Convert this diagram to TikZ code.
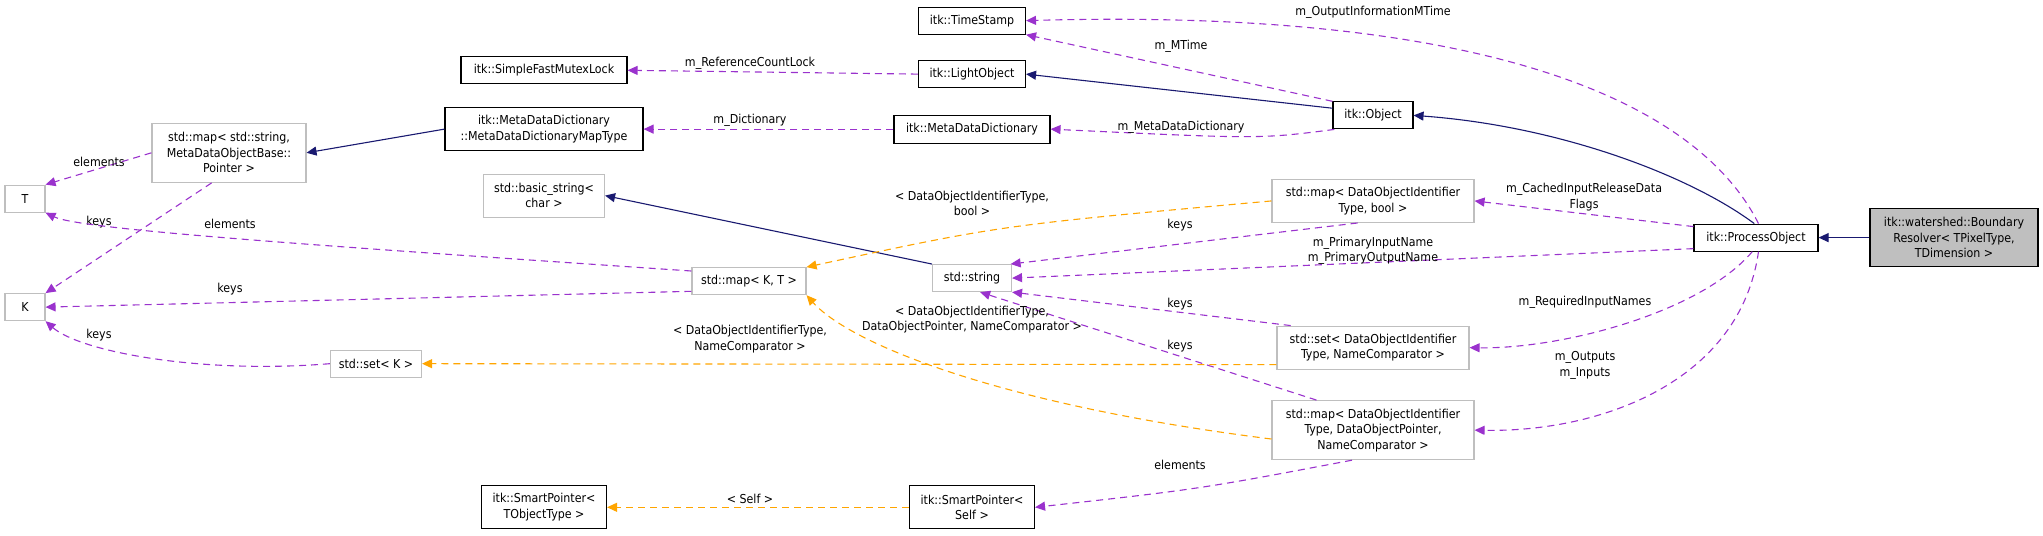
\documentclass[tikz,border=0pt]{standalone}
\usepackage{fontspec}
\setmainfont{DejaVu Sans Condensed}
\usetikzlibrary{arrows.meta}
\definecolor{navy}{HTML}{191970}
\definecolor{purp}{HTML}{9A32CD}
\definecolor{orng}{HTML}{FFA500}
\definecolor{gb}{HTML}{BFBFBF}
\begin{document}
\begin{tikzpicture}[x=1pt,y=-0.764pt,
  font=\fontsize{12.3}{15.5}\selectfont,
  every node/.style={inner sep=0pt,align=center},
  cls/.style={draw=black,line width=1.1pt,fill=white},
  tpl/.style={draw=gb,line width=1.1pt,fill=white},
  tip/.style={-{Triangle[length=10pt,width=9pt]}},
  inh/.style={tip,draw=navy,line width=1.1pt},
  use/.style={tip,draw=purp,dashed,dash pattern=on 7pt off 5pt,line width=1.1pt},
  tmp/.style={tip,draw=orng,dashed,dash pattern=on 7pt off 5pt,line width=1.1pt},
  lbl/.style={fill=none}]
\useasboundingbox (0,0) rectangle (2043,700.3);
% nodes
\node[cls,fill=gb,minimum width=168,minimum height=58] (res) at (1954,311) {itk::watershed::Boundary\\Resolver< TPixelType,\\TDimension >};
\node[cls,minimum width=124,minimum height=27] (po) at (1756,311) {itk::ProcessObject};
\node[cls,minimum width=80,minimum height=27] (obj) at (1373,151) {itk::Object};
\node[cls,minimum width=107,minimum height=27] (ts) at (972,27) {itk::TimeStamp};
\node[cls,minimum width=107,minimum height=27] (lo) at (972,97) {itk::LightObject};
\node[cls,minimum width=156,minimum height=28] (mdd) at (972,169) {itk::MetaDataDictionary};
\node[cls,minimum width=166,minimum height=27] (sfml) at (544,92) {itk::SimpleFastMutexLock};
\node[cls,minimum width=198,minimum height=43] (mt) at (544,169) {itk::MetaDataDictionary\\::MetaDataDictionaryMapType};
\node[tpl,minimum width=154,minimum height=59] (smap) at (229,200) {std::map< std::string,\\MetaDataObjectBase::\\Pointer >};
\node[tpl,minimum width=40,minimum height=27] (T) at (25,260) {T};
\node[tpl,minimum width=40,minimum height=27] (K) at (25,402) {K};
\node[tpl,minimum width=121,minimum height=43] (bs) at (544,256) {std::basic\_string<\\char >};
\node[tpl,minimum width=91,minimum height=27] (setK) at (376,476) {std::set< K >};
\node[cls,minimum width=125,minimum height=43] (spT) at (544,664) {itk::SmartPointer<\\TObjectType >};
\node[tpl,minimum width=114,minimum height=27] (mapKT) at (749,368) {std::map< K, T >};
\node[tpl,minimum width=79,minimum height=27] (str) at (972,364) {std::string};
\node[tpl,minimum width=202,minimum height=43] (mb) at (1373,263) {std::map< DataObjectIdentifier\\Type, bool >};
\node[tpl,minimum width=192,minimum height=43] (snc) at (1373,455) {std::set< DataObjectIdentifier\\Type, NameComparator >};
\node[tpl,minimum width=202,minimum height=59] (mdop) at (1373,563) {std::map< DataObjectIdentifier\\Type, DataObjectPointer,\\NameComparator >};
\node[cls,minimum width=125,minimum height=43] (spS) at (972,664) {itk::SmartPointer<\\Self >};
% inheritance
\draw[inh] (res) -- (po);
\draw[inh] (po.97) .. controls (1690,230) and (1560,165) .. (obj.east);
\draw[inh] (obj.170) -- (lo.east);
\draw[inh] (str.north west) -- (bs.east);
\draw[inh] (mt.west) -- (smap.east);
% usage
\draw[use] (po.80) .. controls (1700,140) and (1500,10) .. (ts.east);
\node[lbl] at (1373,16) {m\_OutputInformationMTime};
\draw[use] (obj.north west) -- (ts.south east);
\node[lbl] at (1181,61) {m\_MTime};
\draw[use] (lo.west) -- (sfml.east);
\node[lbl] at (750,83) {m\_ReferenceCountLock};
\draw[use] (obj.200) .. controls (1260,182) .. (mdd.east);
\node[lbl] at (1181,166) {m\_MetaDataDictionary};
\draw[use] (mdd.west) -- (mt.east);
\node[lbl] at (750,158) {m\_Dictionary};
\draw[use] (smap.west) -- (T.north east);
\node[lbl] at (99,212) {elements};
\draw[use] (smap.240) -- (K.north east);
\node[lbl] at (99,291) {keys};
\draw[use] (mapKT.170) .. controls (300,320) and (80,300) .. (T.south east);
\node[lbl] at (230,293) {elements};
\draw[use] (mapKT.190) -- (K.east);
\node[lbl] at (230,378) {keys};
\draw[use] (setK.west) .. controls (200,490) and (80,460) .. (K.south east);
\node[lbl] at (99,438) {keys};
\draw[use] (po.170) -- (mb.east);
\node[lbl] at (1584,258) {m\_CachedInputReleaseData\\Flags};
\draw[use] (po.190) -- (str.east);
\node[lbl] at (1373,328) {m\_PrimaryInputName\\m\_PrimaryOutputName};
\draw[use] (po.255) .. controls (1700,410) and (1560,457) .. (snc.east);
\node[lbl] at (1585,395) {m\_RequiredInputNames};
\draw[use] (po.280) .. controls (1740,500) and (1600,566) .. (mdop.east);
\node[lbl] at (1585,478) {m\_Outputs\\m\_Inputs};
\draw[use] (mb.235) -- (str.20);
\node[lbl] at (1180,294) {keys};
\draw[use] (snc.165) -- (str.south east);
\node[lbl] at (1180,398) {keys};
\draw[use] (mdop.152) -- (str.300);
\node[lbl] at (1180,453) {keys};
\draw[use] (mdop.235) .. controls (1200,640) .. (spS.east);
\node[lbl] at (1180,608) {elements};
% template
\draw[tmp] (mb.west) .. controls (1000,295) .. (mapKT.north east);
\node[lbl] at (972,266) {< DataObjectIdentifierType,\\bool >};
\draw[tmp] (mdop.185) .. controls (1000,530) and (850,450) .. (mapKT.south east);
\node[lbl] at (972,418) {< DataObjectIdentifierType,\\DataObjectPointer, NameComparator >};
\draw[tmp] (snc.190) -- (setK.east);
\node[lbl] at (750,444) {< DataObjectIdentifierType,\\NameComparator >};
\draw[tmp] (spS.west) -- (spT.east);
\node[lbl] at (750,653) {< Self >};
\end{tikzpicture}
\end{document}
